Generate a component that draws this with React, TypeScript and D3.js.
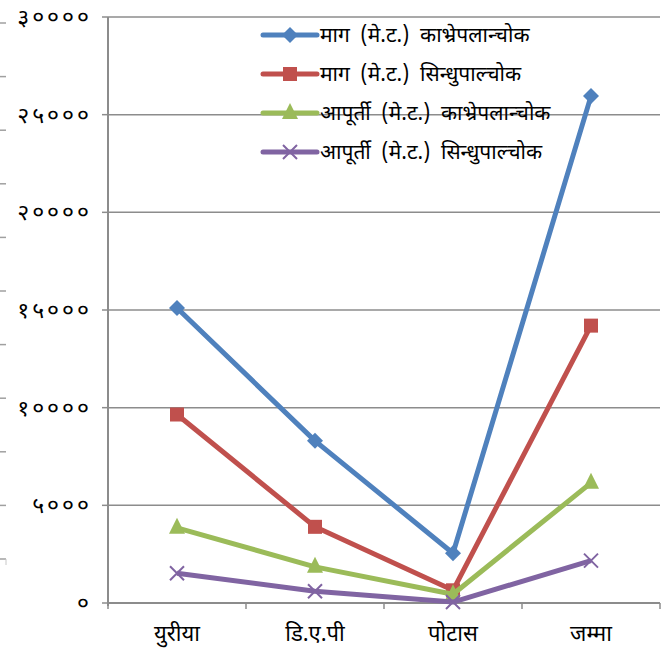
import * as d3 from "d3";

const categories = ["युरीया", "डि.ए.पी", "पोटास", "जम्मा"];
const seriesNames = [
  "माग (मे.ट.) काभ्रेपलान्चोक",
  "माग (मे.ट.) सिन्धुपाल्चोक",
  "आपूर्ती (मे.ट.) काभ्रेपलान्चोक",
  "आपूर्ती (मे.ट.) सिन्धुपाल्चोक",
];
const demandKavre = [15100, 8300, 2550, 25950];
const demandSindhu = [9650, 3900, 650, 14200];
const supplyKavre = [3850, 1850, 450, 6150];
const supplySindhu = [1520, 600, 50, 2170];
const yTicks = [0, 5000, 10000, 15000, 20000, 25000, 30000];
const yTickLabels = ["०", "५०००", "१००००", "१५०००", "२००००", "२५०००", "३००००"];

const colors = ["#4F81BD", "#C0504D", "#9BBB59", "#8064A2"];
const markers = ["diamond", "square", "triangle", "cross"];

const width = 662;
const height = 655;
const margin = { top: 17, right: 2, bottom: 52, left: 108 };
const font = "'Noto Sans Devanagari', 'Lohit Devanagari', 'Noto Sans', sans-serif";
const gridColor = "#8c8c8c";

const Marker = ({ type, x, y, color }: { type: string; x: number; y: number; color: string }) => {
  if (type === "diamond") {
    const s = 8;
    return <path d={`M${x},${y - s}L${x + s},${y}L${x},${y + s}L${x - s},${y}Z`} fill={color} />;
  }
  if (type === "square") {
    return <rect x={x - 7} y={y - 7} width={14} height={14} fill={color} />;
  }
  if (type === "triangle") {
    return <path d={`M${x},${y - 10}L${x + 8},${y + 6}L${x - 8},${y + 6}Z`} fill={color} />;
  }
  return (
    <path
      d={`M${x - 7},${y - 7}L${x + 7},${y + 7}M${x - 7},${y + 7}L${x + 7},${y - 7}`}
      stroke={color}
      strokeWidth={2}
    />
  );
};

const App = () => {
  const series = [demandKavre, demandSindhu, supplyKavre, supplySindhu];
  const innerW = width - margin.left - margin.right;
  const innerH = height - margin.top - margin.bottom;

  const x = d3.scaleBand<string>().domain(categories).range([0, innerW]);
  const y = d3.scaleLinear().domain([0, 30000]).range([innerH, 0]);

  const line = d3
    .line<number>()
    .x((_, i) => (x(categories[i]) ?? 0) + x.bandwidth() / 2)
    .y((d) => y(d));

  // stray tick marks from neighbouring chart at the left edge
  const edge = d3.scaleLinear().domain([0, 10]).range([23, 559]);
  const edgeTicks = d3.range(11);

  const legendY = d3.scaleLinear().domain([0, 3]).range([35, 152]);

  return (
    <svg
      width={width}
      height={height}
      style={{ position: "absolute", left: 0, top: 0 }}
      fontFamily={font}
    >
      <rect width={width} height={height} fill="#fff" />
      {edgeTicks.map((t) => (
        <line key={t} x1={0} x2={6} y1={edge(t)} y2={edge(t)} stroke="#a0a0a0" strokeWidth={1.5} />
      ))}
      <line x1={6} x2={6} y1={edge(10)} y2={edge(10) + 6} stroke="#c8c8c8" strokeWidth={1} />
      <g transform={`translate(${margin.left},${margin.top})`}>
        {yTicks.map((t, i) => (
          <g key={t} transform={`translate(0,${y(t)})`}>
            <line x1={0} x2={innerW} stroke={gridColor} strokeWidth={1.5} />
            <line x1={-6} x2={0} stroke={gridColor} strokeWidth={1.5} />
            <text x={-16} dy="0.35em" textAnchor="end" fontSize={23} letterSpacing={3} fill="#000">
              {yTickLabels[i]}
            </text>
          </g>
        ))}
        <line x1={0} x2={0} y1={0} y2={innerH + 3} stroke={gridColor} strokeWidth={2} />
        <line x1={0} x2={innerW} y1={innerH} y2={innerH} stroke={gridColor} strokeWidth={2} />
        {[...categories.map((c) => x(c) ?? 0), innerW].map((p, i) => (
          <line key={i} x1={p} x2={p} y1={innerH} y2={innerH + 6} stroke={gridColor} strokeWidth={1.5} />
        ))}
        {categories.map((c) => (
          <text
            key={c}
            x={(x(c) ?? 0) + x.bandwidth() / 2}
            y={innerH + 38}
            textAnchor="middle"
            fontSize={22}
            fill="#000"
          >
            {c}
          </text>
        ))}
        {series.map((s, si) => (
          <g key={si}>
            <path d={line(s) ?? undefined} fill="none" stroke={colors[si]} strokeWidth={5} strokeLinejoin="round" />
            {s.map((v, i) => (
              <Marker
                key={i}
                type={markers[si]}
                x={(x(categories[i]) ?? 0) + x.bandwidth() / 2}
                y={y(v)}
                color={colors[si]}
              />
            ))}
          </g>
        ))}
      </g>
      <g>
        {seriesNames.map((n, i) => (
          <g key={n} transform={`translate(0,${legendY(i)})`}>
            <line x1={263} x2={317} stroke={colors[i]} strokeWidth={5} strokeLinecap="round" />
            <Marker type={markers[i]} x={290} y={0} color={colors[i]} />
            <text x={320} dy="0.35em" fontSize={21} wordSpacing={5} fill="#000">
              {n}
            </text>
          </g>
        ))}
      </g>
    </svg>
  );
};

export default App;
